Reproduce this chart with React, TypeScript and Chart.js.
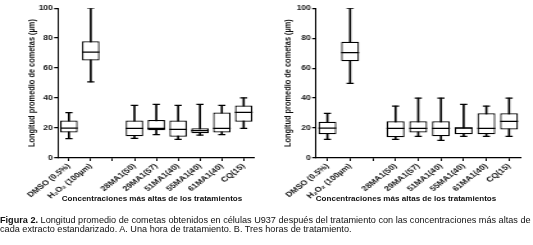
import React, { useEffect, useRef } from "react";
import { Chart, registerables } from "chart.js";
Chart.register(...registerables);

const categories = [
  "DMSO (0.5%)",
  "H₂O₂ (100µm)",
  "",
  "28MA1(50)",
  "29MA1(57)",
  "51MA1(40)",
  "55MA1(40)",
  "61MA1(40)",
  "CQ(15)",
];
const yTicks = [0, 20, 40, 60, 80, 100];

// Panel A (one hour)
const minA = [13, 50.8, null, 13.1, 15.6, 12.4, 15.3, 15.6, 19.8];
const q1A = [17.1, 65, null, 14.5, 18.5, 14.2, 16.5, 17.1, 24.2];
const medA = [20, 70.6, null, 19.8, 19.8, 19.1, 18.2, 19.8, 30.4];
const q3A = [25.1, 77.9, null, 25.1, 25.3, 25.1, 19.8, 30.4, 35.1];
const maxA = [30.3, 100, null, 35.1, 35.8, 35.1, 35.8, 35.1, 40.2];

// Panel B (three hours)
const minB = [12.5, 49.9, null, 12.5, 14.5, 11.8, 14.5, 14.5, 14.5];
const q1B = [15.8, 64.6, null, 13.8, 17.1, 14.5, 15.8, 15.8, 19.1];
const medB = [20, 70.4, null, 19.8, 19.8, 19.8, 20, 19.8, 24.5];
const q3B = [24.2, 77.7, null, 24.5, 24.5, 24.5, 20.5, 29.8, 29.8];
const maxB = [29.8, 100, null, 34.7, 40, 40, 35.8, 34.7, 40];

const yTitle = "Longitud promedio de cometas (µm)";
const xTitle = "Concentraciones más altas de los tratamientos";
const captionBold = "Figura 2.";
const captionLine1 =
  " Longitud promedio de cometas obtenidos en células U937 después del tratamiento con las concentraciones más altas de";
const captionLine2 =
  "cada extracto estandarizado. A. Una hora de tratamiento. B. Tres horas de tratamiento.";

const FAMILY = "'Liberation Sans', Arial, sans-serif";
const INK = "#111";

type Props = {
  mins: (number | null)[];
  q1s: (number | null)[];
  meds: (number | null)[];
  q3s: (number | null)[];
  maxs: (number | null)[];
  left: number;
  width: number; // internal (drawing) width
  cssWidth: number; // displayed width (figure is stretched horizontally)
  height: number;
  yAxisWidth: number;
  titleCenter: number;
  padRight: number;
  boxPct: number;
  medRadius: number;
};

function BoxChart(p: Props) {
  const ref = useRef<HTMLCanvasElement | null>(null);
  useEffect(() => {
    if (!ref.current) return;
    const yTickFont = { family: FAMILY, size: 6.7, weight: "bold" as const };
    const xTickFont = { family: FAMILY, size: 7.1, weight: "bold" as const };
    const lw = 1.25;
    const pointDs = (data: (number | null)[], r: number) => ({
      type: "line" as const,
      data,
      showLine: false,
      pointStyle: "line" as const,
      pointRadius: r,
      pointHoverRadius: r,
      borderColor: "#000",
      pointBorderColor: "#000",
      pointBorderWidth: lw,
      order: 0,
    });
    const chart = new Chart(ref.current, {
      type: "bar",
      data: {
        labels: categories,
        datasets: [
          {
            type: "bar",
            data: p.q1s.map((q, i) => (q == null ? null : [q, p.q3s[i] as number])) as any,
            backgroundColor: "#fff",
            borderColor: "#000",
            borderWidth: lw,
            borderSkipped: false,
            barPercentage: p.boxPct,
            categoryPercentage: 1,
            grouped: false,
            order: 1,
          },
          {
            type: "bar",
            data: p.mins.map((m, i) => (m == null ? null : [m, p.maxs[i] as number])) as any,
            backgroundColor: "#000",
            borderWidth: 0,
            barThickness: 1,
            grouped: false,
            order: 3,
          },
          pointDs(p.meds, p.medRadius) as any,
          pointDs(p.maxs, 2.8) as any,
          pointDs(p.mins, 2.8) as any,
        ],
      },
      options: {
        animation: false,
        responsive: false,
        events: [],
        layout: { padding: { top: 8, right: p.padRight, bottom: 0, left: 0 } },
        plugins: { legend: { display: false }, tooltip: { enabled: false } },
        scales: {
          x: {
            offset: true,
            grid: {
              display: true,
              drawOnChartArea: false,
              drawTicks: true,
              tickLength: 3,
              color: "#000",
              lineWidth: 1,
              offset: false,
            },
            border: { color: "#000", width: lw },
            ticks: {
              autoSkip: false,
              minRotation: 45,
              maxRotation: 45,
              padding: 1,
              color: INK,
              font: xTickFont,
            },
            afterFit: (s: any) => {
              s.height = p.height - 158;
            },
          },
          y: {
            min: 0,
            max: 100,
            afterBuildTicks: (s: any) => {
              s.ticks = yTicks.map((v) => ({ value: v }));
            },
            grid: {
              display: true,
              drawOnChartArea: false,
              drawTicks: true,
              tickLength: 3,
              color: "#000",
              lineWidth: lw,
            },
            border: { color: "#000", width: 1 },
            ticks: { padding: 1, color: INK, font: yTickFont },
            title: {
              display: true,
              text: yTitle,
              color: INK,
              font: { family: FAMILY, size: 7.4, weight: "bold" },
              padding: { top: p.titleCenter - 4.4, bottom: 0 },
            },
            afterFit: (s: any) => {
              s.width = p.yAxisWidth;
            },
          },
        },
      },
    } as any);
    return () => chart.destroy();
  }, []);
  return (
    <canvas
      ref={ref}
      width={p.width}
      height={p.height}
      style={{ position: "absolute", left: p.left, top: 0, width: p.cssWidth, height: p.height }}
    />
  );
}

const xTitleStyle = (center: number): React.CSSProperties => ({
  position: "absolute",
  top: 194,
  left: center - 150,
  width: 300,
  textAlign: "center",
  fontFamily: FAMILY,
  fontWeight: "bold",
  fontSize: 6.3,
  lineHeight: "10px",
  color: INK,
  whiteSpace: "nowrap",
  transform: "scaleX(1.28)",
});

export default function App() {
  return (
    <div
      style={{
        position: "absolute",
        left: 0,
        top: 0,
        width: 533,
        height: 245,
        background: "#fff",
        overflow: "hidden",
      }}
    >
      <BoxChart
        mins={minA}
        q1s={q1A}
        meds={medA}
        q3s={q3A}
        maxs={maxA}
        left={0}
        width={207}
        cssWidth={265}
        height={200}
        yAxisWidth={45.3}
        titleCenter={25}
        padRight={5.4}
        boxPct={0.8}
        medRadius={6.9}
      />
      <BoxChart
        mins={minB}
        q1s={q1B}
        meds={medB}
        q3s={q3B}
        maxs={maxB}
        left={265}
        width={209}
        cssWidth={268}
        height={200}
        yAxisWidth={39.8}
        titleCenter={18}
        padRight={9.8}
        boxPct={0.79}
        medRadius={7}
      />
      <div style={xTitleStyle(152)}>{xTitle}</div>
      <div style={xTitleStyle(406)}>{xTitle}</div>
      <div
        style={{
          position: "absolute",
          left: 0,
          top: 215.5,
          width: 533,
          fontFamily: FAMILY,
          fontSize: 9.15,
          lineHeight: "9.4px",
          color: INK,
          whiteSpace: "nowrap",
        }}
      >
        <div>
          <b>{captionBold}</b>
          {captionLine1}
        </div>
        <div>{captionLine2}</div>
      </div>
    </div>
  );
}
